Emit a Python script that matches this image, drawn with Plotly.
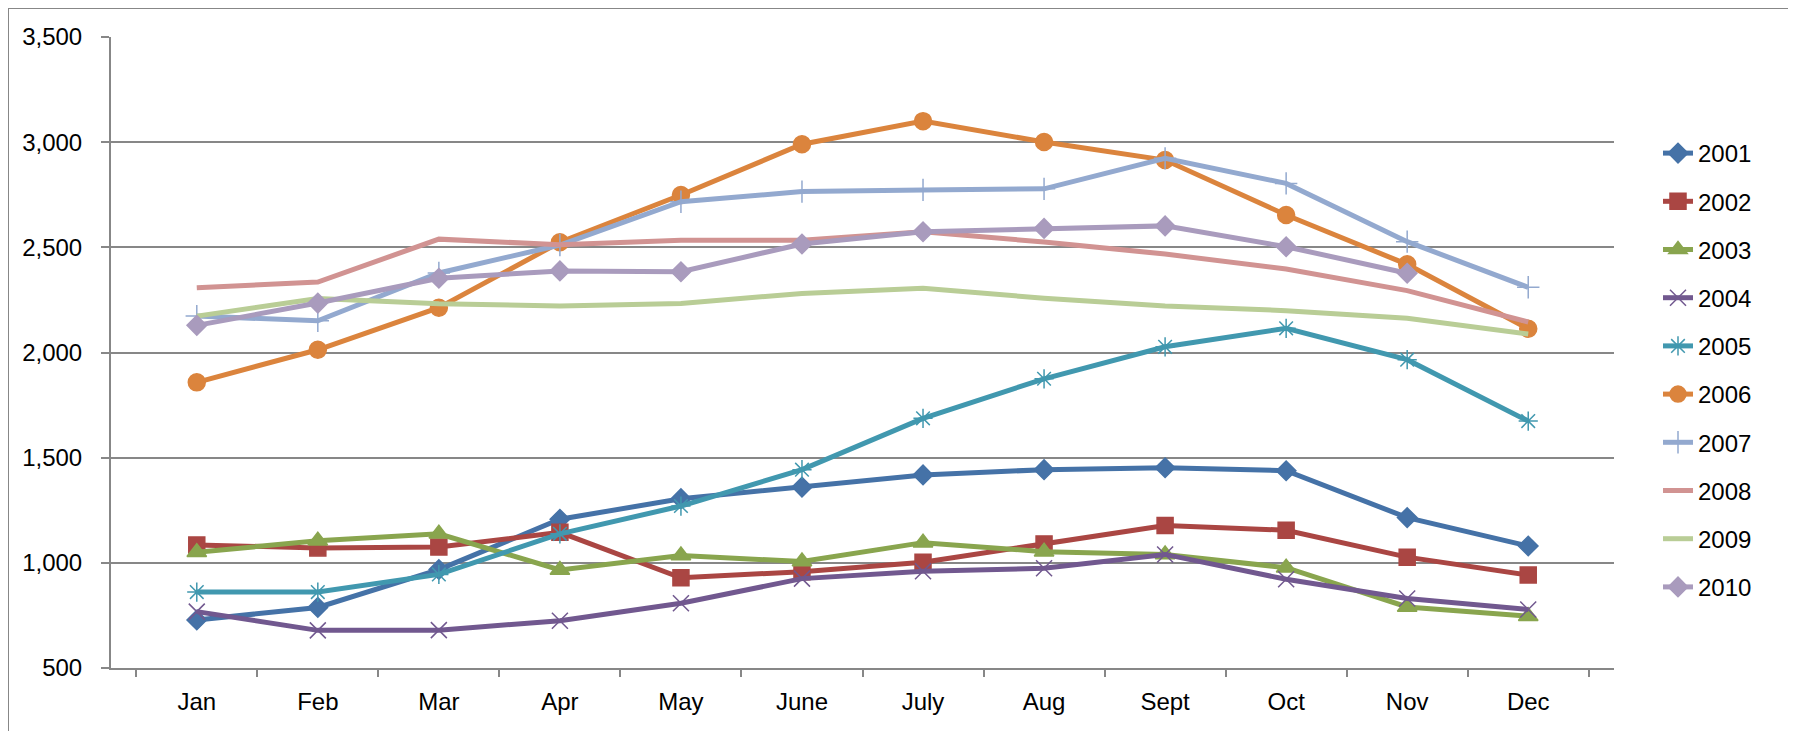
import plotly.graph_objects as go

# monthly values per year
months = ['Jan', 'Feb', 'Mar', 'Apr', 'May', 'June', 'July', 'Aug', 'Sept', 'Oct', 'Nov', 'Dec']

y2001 = [728, 788, 968, 1207, 1305, 1360, 1418, 1443, 1452, 1438, 1215, 1080]
y2002 = [1085, 1071, 1075, 1145, 929, 958, 1003, 1090, 1177, 1155, 1027, 942]
y2003 = [1050, 1105, 1138, 966, 1035, 1006, 1096, 1053, 1040, 977, 790, 746]
y2004 = [768, 679, 680, 725, 808, 925, 960, 974, 1040, 922, 830, 778]
y2005 = [861, 861, 945, 1138, 1270, 1443, 1687, 1875, 2027, 2115, 1966, 1674]
y2006 = [1858, 2013, 2213, 2524, 2749, 2990, 3100, 3001, 2915, 2654, 2419, 2113]
y2007 = [2173, 2151, 2378, 2511, 2717, 2765, 2773, 2778, 2923, 2804, 2527, 2310]
y2008 = [2308, 2335, 2539, 2512, 2534, 2534, 2574, 2525, 2468, 2397, 2294, 2145]
y2009 = [2173, 2257, 2232, 2221, 2233, 2281, 2305, 2258, 2221, 2199, 2163, 2088]
y2010 = [2129, 2235, 2353, 2388, 2384, 2516, 2574, 2590, 2602, 2503, 2377, None]

series = [
    ('2001', y2001, '#4572A7', 'diamond', 15),
    ('2002', y2002, '#AA4643', 'square', 16),
    ('2003', y2003, '#89A54E', 'triangle-up', 17),
    ('2004', y2004, '#71588F', 'x-thin-open', 16),
    ('2005', y2005, '#4198AF', 'asterisk-open', 16),
    ('2006', y2006, '#DB843D', 'circle', 17),
    ('2007', y2007, '#93A9CF', 'cross-thin-open', 16),
    ('2008', y2008, '#D19392', None, 0),
    ('2009', y2009, '#B9CD96', None, 0),
    ('2010', y2010, '#A99BBD', 'diamond', 15),
]

# page body has an 8px margin, so the plot area is placed relative to that
W, H = 1796, 731
L, R, T, B = 103, 190, 29, 71
pw, ph = W - L - R, H - T - B

fig = go.Figure()
for name, vals, col, sym, sz in series:
    if sym is None:
        mode = 'lines'
        mk = dict()
    else:
        mode = 'lines+markers'
        mk = dict(symbol=sym, size=sz, color=col, line=dict(color=col, width=1.5))
    fig.add_trace(go.Scatter(x=months, y=vals, name=name, mode=mode, legendgroup=name,
                             line=dict(color=col, width=5), marker=mk, connectgaps=False))

grid = '#878787'
font = 'Liberation Sans'

fig.update_layout(
    width=W, height=H,
    margin=dict(l=L, r=R, t=T, b=B),
    paper_bgcolor='white', plot_bgcolor='white',
    font=dict(family=font, size=24, color='black'),
    showlegend=True,
    legend=dict(x=(1658 - 8 - L) / pw, xanchor='left', y=1 - (131 - 8 - T) / ph, yanchor='top',
                tracegroupgap=14, font=dict(size=24), itemwidth=30,
                bgcolor='rgba(0,0,0,0)'),
    xaxis=dict(type='category', showgrid=False, showline=True, linecolor=grid, linewidth=2,
               ticks='outside', tickson='boundaries', ticklen=7, tickcolor=grid, tickwidth=2,
               tickfont=dict(size=24), ticklabelstandoff=11),
    yaxis=dict(range=[500, 3500], dtick=500, tickformat=',', showgrid=True, gridcolor=grid,
               gridwidth=1.5, showline=True, linecolor=grid, linewidth=2, zeroline=False,
               ticks='outside', ticklen=8, tickcolor=grid, tickwidth=2,
               tickfont=dict(size=24), ticklabelstandoff=14),
)

# outer chart frame
fig.add_shape(type='rect', xref='paper', yref='paper',
              x0=-L / pw, x1=(1785 - L) / pw, y0=-0.3, y1=1 + T / ph,
              line=dict(color=grid, width=2), fillcolor='rgba(0,0,0,0)', layer='below')

fig.write_html("out.html")
